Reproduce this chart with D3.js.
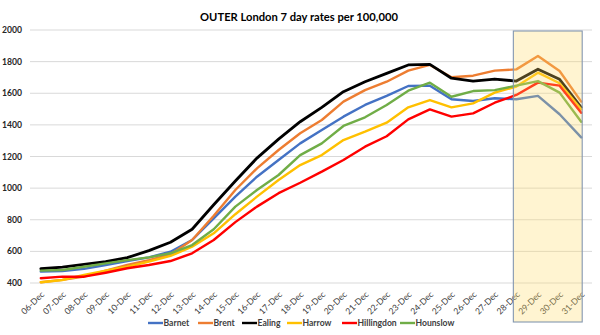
<!DOCTYPE html>
<html><head><meta charset="utf-8">
<script src="https://cdn.jsdelivr.net/npm/d3@7"></script>
<style>
html,body{margin:0;padding:0;background:#fff;}
svg{display:block;font-family:Lato,"Open Sans",sans-serif;}
</style></head>
<body>
<svg id="chart" width="600" height="335"></svg>
<script>
const dates = ["06-Dec","07-Dec","08-Dec","09-Dec","10-Dec","11-Dec","12-Dec","13-Dec","14-Dec","15-Dec","16-Dec","17-Dec","18-Dec","19-Dec","20-Dec","21-Dec","22-Dec","23-Dec","24-Dec","25-Dec","26-Dec","27-Dec","28-Dec","29-Dec","30-Dec","31-Dec"];
const barnet     = [472,476,489,514,539,562,598,672,809,946,1072,1178,1283,1368,1452,1526,1583,1646,1648,1562,1551,1568,1562,1583,1467,1321];
const brent      = [405,420,440,478,514,545,581,672,825,988,1125,1241,1347,1431,1547,1620,1673,1743,1779,1701,1711,1743,1751,1836,1741,1547];
const ealing     = [490,500,518,535,560,605,658,740,895,1045,1190,1310,1420,1511,1610,1673,1726,1779,1783,1695,1677,1690,1677,1752,1688,1511];
const harrow     = [405,419,451,478,503,535,571,630,714,835,946,1051,1146,1209,1304,1357,1414,1511,1557,1511,1536,1604,1642,1730,1663,1498];
const hillingdon = [430,440,440,465,493,514,539,588,672,785,883,968,1034,1104,1178,1262,1328,1435,1498,1452,1473,1540,1589,1667,1648,1477];
const hounslow   = [478,482,503,524,545,562,588,640,740,883,988,1083,1209,1283,1393,1448,1526,1616,1667,1578,1614,1620,1648,1677,1604,1420];
const seriesNames = ["Barnet","Brent","Ealing","Harrow","Hillingdon","Hounslow"];
const yTicks = [400,600,800,1000,1200,1400,1600,1800,2000];
const highlightDates = ["28-Dec","31-Dec"];
const title = "OUTER London 7 day rates per 100,000";

const seriesValues = [barnet, brent, ealing, harrow, hillingdon, hounslow];
const colors = ["#4472C4","#ED7D31","#000000","#FFC000","#FF0000","#70AD47"];
const widths = [2.4,2.4,2.8,2.4,2.4,2.4];

const svg = d3.select("#chart");
const x = d3.scalePoint().domain(dates).range([30,592]).padding(0.5);
const y = d3.scaleLinear().domain([400,2000]).range([283,30]);

// gridlines
svg.append("g").selectAll("line").data(yTicks).join("line")
  .attr("x1",30).attr("x2",592)
  .attr("y1",d=>y(d)).attr("y2",d=>y(d))
  .attr("stroke","#d9d9d9").attr("stroke-width",1);

// y labels
svg.append("g").selectAll("text").data(yTicks).join("text")
  .attr("x",22).attr("y",d=>y(d)+3)
  .attr("text-anchor","end")
  .attr("font-size","8.6px").attr("font-weight","bold").attr("fill","#262626")
  .text(d=>d);

// x labels
svg.append("g").selectAll("text").data(dates).join("text")
  .attr("transform",d=>`translate(${x(d)+4},${295}) rotate(-45)`)
  .attr("text-anchor","end")
  .attr("font-size","8.6px").attr("fill","#404040")
  .text(d=>d);

// lines
const line = d3.line().x((d,i)=>x(dates[i])).y(d=>y(d));
seriesValues.forEach((vals,k)=>{
  svg.append("path").datum(vals)
    .attr("d",line).attr("fill","none")
    .attr("stroke",colors[k]).attr("stroke-width",widths[k])
    .attr("stroke-linejoin","round").attr("stroke-linecap","round");
});

// highlight box
const bx0 = x(highlightDates[0]) - 3;
const bx1 = x(highlightDates[1]) + 1;
svg.append("rect")
  .attr("x",bx0).attr("y",31)
  .attr("width",bx1-bx0).attr("height",322-31)
  .attr("fill","#FFD966").attr("fill-opacity",0.3)
  .attr("stroke","#8497B0").attr("stroke-width",1.1);

// title
const t = svg.append("text").attr("x",299).attr("y",21)
  .attr("text-anchor","middle").attr("font-size","12.5px").attr("font-weight","bold").attr("fill","#000")
  .text(title);
const tl = t.node().getComputedTextLength();
if (tl > 0) t.attr("font-size", (12.5*198/tl).toFixed(2)+"px");

// legend
const legX = [148,198,242,287,342,400];
const lg = svg.append("g");
seriesNames.forEach((n,k)=>{
  lg.append("line").attr("x1",legX[k]).attr("x2",legX[k]+15)
    .attr("y1",323).attr("y2",323)
    .attr("stroke",colors[k]).attr("stroke-width",2.4);
  lg.append("text").attr("x",legX[k]+15.5).attr("y",326.2)
    .attr("font-size","8.6px").attr("font-weight","bold").attr("fill","#404040")
    .text(n);
});
</script>
</body></html>
